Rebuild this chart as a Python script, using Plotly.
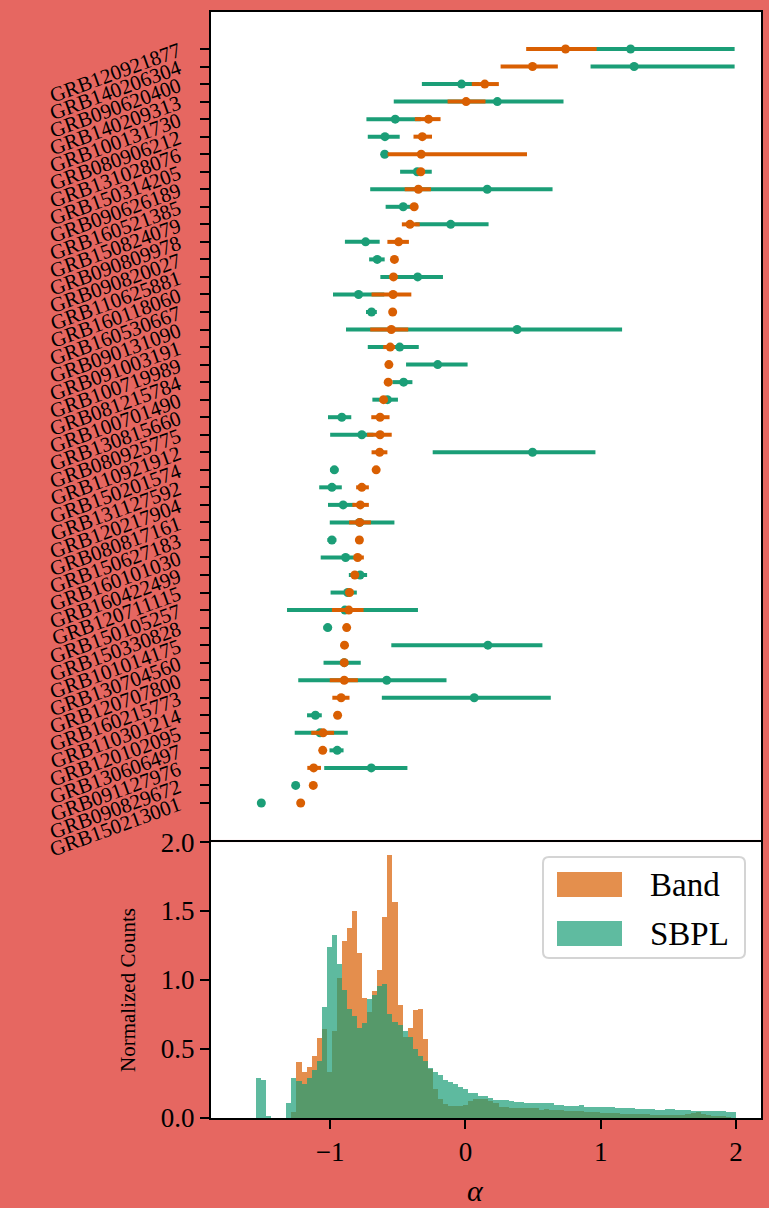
import numpy as np
import plotly.graph_objects as go

# ---------------- data ----------------
grb_names = [
    "GRB120921877", "GRB140206304", "GRB090620400", "GRB140209313", "GRB100131730",
    "GRB080906212", "GRB131028076", "GRB150314205", "GRB090626189", "GRB160521385",
    "GRB150824079", "GRB090809978", "GRB090820027", "GRB110625881", "GRB160118060",
    "GRB160530667", "GRB090131090", "GRB091003191", "GRB100719989", "GRB081215784",
    "GRB100701490", "GRB130815660", "GRB080925775", "GRB110921912", "GRB150201574",
    "GRB131127592", "GRB120217904", "GRB080817161", "GRB150627183", "GRB160101030",
    "GRB160422499", "GRB120711115", "GRB150105257", "GRB150330828", "GRB101014175",
    "GRB130704560", "GRB120707800", "GRB160215773", "GRB110301214", "GRB120102095",
    "GRB130606497", "GRB091127976", "GRB090829672", "GRB150213001",
]

band_lo = [0.449, 0.260, 0.047, -0.132, -0.374, -0.384, -0.575, -0.360, -0.449, -0.410,
           -0.470, -0.577, -0.535, -0.550, -0.694, -0.548, -0.704, -0.608, -0.576, -0.581,
           -0.625, -0.696, -0.727, -0.694, -0.670, -0.808, -0.836, -0.860, -0.794, -0.823,
           -0.840, -0.880, -0.987, -0.888, -0.904, -0.920, -1.003, -0.984, -0.955, -1.140,
           -1.065, -1.169, -1.135, -1.228]
band_pt = [0.740, 0.496, 0.143, 0.005, -0.273, -0.319, -0.327, -0.330, -0.348, -0.379,
           -0.410, -0.494, -0.525, -0.532, -0.535, -0.538, -0.548, -0.556, -0.566, -0.571,
           -0.605, -0.631, -0.631, -0.634, -0.660, -0.766, -0.777, -0.782, -0.784, -0.797,
           -0.818, -0.857, -0.862, -0.878, -0.894, -0.896, -0.896, -0.919, -0.945, -1.052,
           -1.055, -1.122, -1.125, -1.218]
band_hi = [0.970, 0.683, 0.247, 0.148, -0.184, -0.247, 0.455, -0.300, -0.255, -0.350,
           -0.338, -0.418, -0.515, -0.515, -0.400, -0.528, -0.423, -0.520, -0.556, -0.561,
           -0.585, -0.561, -0.545, -0.577, -0.650, -0.714, -0.714, -0.699, -0.774, -0.751,
           -0.800, -0.835, -0.753, -0.868, -0.884, -0.872, -0.795, -0.857, -0.935, -0.971,
           -1.045, -1.068, -1.115, -1.208]

sbpl_lo = [0.900, 0.925, -0.322, -0.530, -0.732, -0.722, -0.610, -0.483, -0.704, -0.590,
           -0.370, -0.891, -0.712, -0.629, -0.979, -0.735, -0.883, -0.722, -0.439, -0.540,
           -0.688, -1.016, -1.000, -0.242, -1.000, -1.081, -1.016, -1.003, -1.020, -1.070,
           -0.862, -0.997, -1.319, -1.050, -0.548, -1.049, -1.236, -0.618, -1.171, -1.262,
           -1.005, -1.044, -1.265, -1.519]
sbpl_pt = [1.221, 1.247, -0.029, 0.236, -0.519, -0.595, -0.597, -0.356, 0.161, -0.460,
           -0.109, -0.738, -0.652, -0.353, -0.790, -0.694, 0.382, -0.486, -0.205, -0.457,
           -0.577, -0.914, -0.766, 0.496, -0.969, -0.987, -0.904, -0.782, -0.987, -0.886,
           -0.779, -0.870, -0.891, -1.018, 0.166, -0.896, -0.582, 0.065, -1.109, -1.075,
           -0.948, -0.696, -1.255, -1.509]
sbpl_hi = [1.990, 1.990, 0.100, 0.725, -0.330, -0.486, -0.585, -0.249, 0.644, -0.400,
           0.171, -0.634, -0.597, -0.166, -0.600, -0.655, 1.158, -0.345, 0.016, -0.392,
           -0.499, -0.844, -0.680, 0.961, -0.940, -0.914, -0.820, -0.525, -0.955, -0.820,
           -0.727, -0.803, -0.351, -0.990, 0.569, -0.774, -0.140, 0.631, -1.062, -0.870,
           -0.901, -0.429, -1.245, -1.499]

# histogram (normalized counts per bin, common bin grid)
hist_start, hist_stop, n_bins = -1.548, 2.0, 95
band_counts = [0, 0, 0, 0, 0, 0, 0, 0.046, 0.404, 0.336,
               0.371, 0.452, 0.577, 0.643, 0.336, 0.630, 1.012, 1.279, 1.379, 1.502,
               1.198, 0.867, 0.770, 0.920, 1.070, 1.459, 1.906, 1.562, 0.819, 0.589,
               0.655, 0.783, 0.790, 0.572, 0.355, 0.210, 0.138, 0.103, 0.089, 0.084,
               0.089, 0.097, 0.123, 0.138, 0.138, 0.138, 0.123, 0.107, 0.078, 0.078,
               0.073, 0.071, 0.071, 0.071, 0.071, 0.071, 0.059, 0.062, 0.059, 0.055,
               0.055, 0.052, 0.052, 0.050, 0.048, 0.046, 0.042, 0.042, 0.038, 0.038,
               0.036, 0.033, 0.031, 0.031, 0.029, 0.027, 0.026, 0.026, 0.024, 0.023,
               0.023, 0.022, 0.021, 0.022, 0.023, 0.026, 0.035, 0.042, 0.030, 0.020,
               0.015, 0.012, 0.008, 0.005, 0.0]
sbpl_counts = [0.287, 0.275, 0.014, 0, 0, 0, 0.110, 0.287, 0.268, 0.244,
               0.287, 0.348, 0.413, 0.802, 1.237, 1.326, 1.114, 0.927, 0.793, 0.739,
               0.655, 0.685, 0.862, 0.891, 0.956, 0.971, 0.754, 0.698, 0.674, 0.633,
               0.585, 0.500, 0.452, 0.416, 0.365, 0.331, 0.312, 0.277, 0.258, 0.246,
               0.222, 0.208, 0.179, 0.179, 0.162, 0.160, 0.142, 0.130, 0.130, 0.130,
               0.123, 0.119, 0.119, 0.107, 0.107, 0.107, 0.107, 0.110, 0.105, 0.093,
               0.093, 0.089, 0.089, 0.089, 0.094, 0.082, 0.082, 0.082, 0.077, 0.077,
               0.077, 0.073, 0.071, 0.071, 0.071, 0.068, 0.066, 0.066, 0.062, 0.059,
               0.059, 0.062, 0.062, 0.059, 0.059, 0.057, 0.054, 0.054, 0.052, 0.050,
               0.049, 0.049, 0.049, 0.046, 0.040]

x_ticks = [-1, 0, 1, 2]
x_ticktext = ["\u22121", "0", "1", "2"]
y_hist_ticks = [0.0, 0.5, 1.0, 1.5, 2.0]

# ---------------- styling ----------------
ORANGE = "#D95F02"
GREEN = "#1B9E77"
BG = "#E66761"
FONT = "Liberation Serif"

edges = np.linspace(hist_start, hist_stop, n_bins + 1)
centres = 0.5 * (edges[:-1] + edges[1:])
bw = edges[1] - edges[0]

bp, bl, bh = map(np.array, (band_pt, band_lo, band_hi))
sp, sl, sh = map(np.array, (sbpl_pt, sbpl_lo, sbpl_hi))

fig = go.Figure()

fig.add_trace(go.Scatter(
    x=sp, y=grb_names, mode="markers",
    marker=dict(color=GREEN, size=9),
    error_x=dict(type="data", symmetric=False, array=sh - sp, arrayminus=sp - sl,
                 color=GREEN, thickness=4, width=0),
    xaxis="x", yaxis="y", showlegend=False))
fig.add_trace(go.Scatter(
    x=bp, y=grb_names, mode="markers",
    marker=dict(color=ORANGE, size=9),
    error_x=dict(type="data", symmetric=False, array=bh - bp, arrayminus=bp - bl,
                 color=ORANGE, thickness=4, width=0),
    xaxis="x", yaxis="y", showlegend=False))

fig.add_trace(go.Bar(x=centres, y=band_counts, width=bw, marker=dict(color=ORANGE, line=dict(width=0)),
                     opacity=0.7, xaxis="x2", yaxis="y2", showlegend=False))
fig.add_trace(go.Bar(x=centres, y=sbpl_counts, width=bw, marker=dict(color=GREEN, line=dict(width=0)),
                     opacity=0.7, xaxis="x2", yaxis="y2", showlegend=False))

xr = [-1.881, 2.185]
n = len(grb_names)
fig.update_layout(
    width=769, height=1208,
    paper_bgcolor=BG, plot_bgcolor="white",
    margin=dict(l=211, r=8, t=12, b=90),
    barmode="overlay", bargap=0,
    font=dict(family=FONT, color="black"),
    xaxis=dict(domain=[0, 1], anchor="y", range=xr, showticklabels=False, ticks="",
               showgrid=False, zeroline=False, showline=True, mirror=True,
               linecolor="black", linewidth=2, automargin=False),
    yaxis=dict(domain=[0.2514, 1], anchor="x", type="category",
               categoryorder="array", categoryarray=grb_names,
               tickmode="array", tickvals=grb_names, ticktext=grb_names,
               range=[n - 1 + 2.11, -2.11], showgrid=False, zeroline=False,
               showline=True, mirror=True, linecolor="black", linewidth=2,
               ticks="outside", ticklen=9, tickwidth=2, tickcolor="black",
               ticklabelstandoff=17, automargin=False,
               tickangle=-20, tickfont=dict(size=21, family=FONT)),
    xaxis2=dict(domain=[0, 1], anchor="y2", range=xr, tickvals=x_ticks, ticktext=x_ticktext,
                showgrid=False, zeroline=False, showline=True, mirror=True,
                linecolor="black", linewidth=2, ticks="outside", ticklen=9, tickwidth=2,
                tickcolor="black", automargin=False, tickfont=dict(size=27, family=FONT)),
    yaxis2=dict(domain=[0, 0.2495], anchor="x2", range=[0, 2.0], tickvals=y_hist_ticks,
                tickformat=".1f", showgrid=False, zeroline=False, showline=True, mirror=True,
                linecolor="black", linewidth=2, ticks="outside", ticklen=9, tickwidth=2,
                tickcolor="black", automargin=False, tickfont=dict(size=27, family=FONT)),
)

# axis titles
fig.add_annotation(text="Normalized Counts", xref="paper", yref="paper", x=-0.151, y=0.1157,
                   textangle=-90, showarrow=False, font=dict(size=21, family=FONT),
                   xanchor="center", yanchor="middle")
fig.add_annotation(text="<i>α</i>", xref="paper", yref="paper", x=0.48, y=-0.0655,
                   showarrow=False, font=dict(size=30, family=FONT),
                   xanchor="center", yanchor="middle")

# manual legend (matplotlib style)
W, H = 550.0, 1106.0
def px(xp):
    return (xp - 211) / W
def py(yp):
    return (1118 - yp) / H

x0, x1, y0, y1, r = 543, 745, 857, 958, 6
path = (f"M {px(x0 + r)},{py(y0)} L {px(x1 - r)},{py(y0)} Q {px(x1)},{py(y0)} {px(x1)},{py(y0 + r)} "
        f"L {px(x1)},{py(y1 - r)} Q {px(x1)},{py(y1)} {px(x1 - r)},{py(y1)} "
        f"L {px(x0 + r)},{py(y1)} Q {px(x0)},{py(y1)} {px(x0)},{py(y1 - r)} "
        f"L {px(x0)},{py(y0 + r)} Q {px(x0)},{py(y0)} {px(x0 + r)},{py(y0)} Z")
fig.add_shape(type="path", path=path, xref="paper", yref="paper",
              fillcolor="rgba(255,255,255,0.8)", line=dict(color="#d4d4d4", width=2))
legend_items = [("Band", ORANGE, 872, 897), ("SBPL", GREEN, 921, 946)]
for label, col, ya, yb in legend_items:
    fig.add_shape(type="rect", xref="paper", yref="paper", x0=px(557), x1=px(622),
                  y0=py(yb), y1=py(ya), fillcolor=col, opacity=0.7, line=dict(width=0))
    fig.add_annotation(text=label, xref="paper", yref="paper", x=px(648), y=py((ya + yb) / 2),
                       xanchor="left", yanchor="middle", showarrow=False,
                       font=dict(size=33, family=FONT))

fig.write_html("out.html", config={"displayModeBar": False},
               post_script="document.body.style.margin='0';")
